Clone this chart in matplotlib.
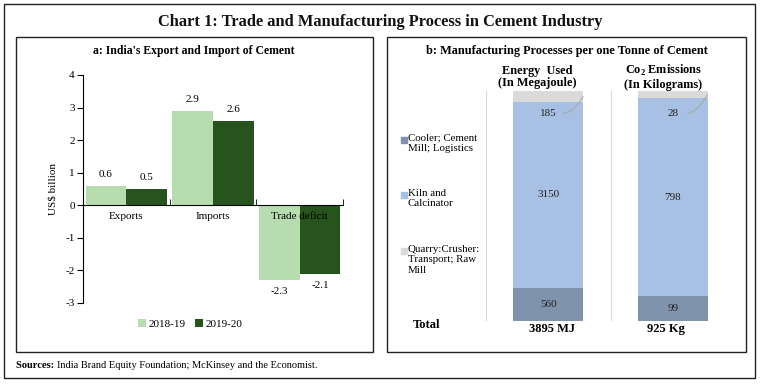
import numpy as np
import matplotlib
matplotlib.use("Agg")
import matplotlib.pyplot as plt
from matplotlib.patches import Rectangle

plt.rcParams['font.family'] = ['Liberation Serif', 'DejaVu Serif']
plt.rcParams['axes.unicode_minus'] = False
plt.rcParams['mathtext.fontset'] = 'custom'
plt.rcParams['mathtext.rm'] = 'Liberation Serif'
plt.rcParams['mathtext.bf'] = 'Liberation Serif:bold'

# donnees panneau a
categories = ["Exports", "Imports", "Trade deficit"]
v_2018 = [0.6, 2.9, -2.3]
v_2019 = [0.5, 2.6, -2.1]
series_a = ["2018-19", "2019-20"]

# donnees panneau b
columns_b = ["Energy  Used\n(In Megajoule)", "Co$_\\mathbf{2}$ Emissions\n(In Kilograms)"]
totals_b = ["3895 MJ", "925 Kg"]
process_labels = ["Cooler; Cement\nMill; Logistics", "Kiln and\nCalcinator",
                  "Quarry:Crusher:\nTransport; Raw\nMill"]
cooler = [560, 99]
kiln = [3150, 798]
quarry = [185, 28]

W, H = 760, 384
C_LIGHT = '#b6dcb0'
C_DARK = '#27531c'
C_SLATE = '#7f93ad'
C_BLUE = '#a7c0e3'
C_GREY = '#dadada'

def box(x0, y0, x1, y1):
    # pixels (haut gauche) -> fraction figure
    return [x0 / W, 1 - y1 / H, (x1 - x0) / W, (y1 - y0) / H]

fig = plt.figure(figsize=(W / 100, H / 100), dpi=100)

# cadres
for (x0, y0, x1, y1) in [(4, 4, 755, 378), (16, 37, 373, 352), (387, 37, 746, 352)]:
    fig.patches.append(Rectangle((x0 / W, 1 - y1 / H), (x1 - x0) / W, (y1 - y0) / H,
                                 transform=fig.transFigure, fill=False,
                                 edgecolor='#222222', linewidth=1.0))

fig.text(380 / W, 1 - 22 / H, "Chart 1: Trade and Manufacturing Process in Cement Industry",
         ha='center', va='center', fontsize=11.8, fontweight='bold', color='#111111')
fig.text(194 / W, 1 - 51 / H, "a: India's Export and Import of Cement",
         ha='center', va='center', fontsize=8.5, fontweight='bold')
fig.text(567 / W, 1 - 51 / H, "b: Manufacturing Processes per one Tonne of Cement",
         ha='center', va='center', fontsize=8.8, fontweight='bold')
src = fig.text(16 / W, 1 - 365 / H, "Sources: ", ha='left', va='center', fontsize=7.5,
               fontweight='bold')
fig.canvas.draw()
ext = src.get_window_extent()
fig.text(ext.x1 / W, 1 - 365 / H, "India Brand Equity Foundation; McKinsey and the Economist.",
         ha='left', va='center', fontsize=7.5)

# ---- panneau a ----
ax = fig.add_axes(box(83, 75, 343, 303))
x = np.arange(len(categories))
bw = 0.47
b1 = ax.bar(x - bw / 2, v_2018, bw, color=C_LIGHT, label=series_a[0])
b2 = ax.bar(x + bw / 2, v_2019, bw, color=C_DARK, label=series_a[1])
for bars, vals in [(b1, v_2018), (b2, v_2019)]:
    for r, v in zip(bars, vals):
        xc = r.get_x() + r.get_width() / 2
        if v >= 0:
            ax.annotate(f"{v:.1f}", (xc, v), xytext=(0, 5), textcoords='offset points',
                        ha='center', va='bottom', fontsize=8)
        else:
            ax.annotate(f"{v:.1f}", (xc, v), xytext=(0, -5), textcoords='offset points',
                        ha='center', va='top', fontsize=8)
ax.set_xlim(-0.5, 2.5)
ax.set_ylim(-3, 4)
ax.set_yticks(range(-3, 5))
ax.spines['top'].set_visible(False)
ax.spines['right'].set_visible(False)
ax.spines['bottom'].set_position(('data', 0))
ax.set_xticks(x)
ax.set_xticklabels(categories, fontsize=8)
ax.tick_params(axis='x', length=0, pad=5)
ax.set_xticks([0.5, 1.5, 2.5], minor=True)
ax.tick_params(axis='x', which='minor', direction='in', length=4)
ax.tick_params(axis='y', labelsize=8, length=4, pad=2)
ax.set_ylabel("US$ billion", fontsize=8)
ax.yaxis.set_label_coords((57 - 83) / 260, 0.5)
ax.legend(loc='center', bbox_to_anchor=(190 / W, 1 - 324 / H), bbox_transform=fig.transFigure,
          ncol=2, frameon=False, fontsize=8, handlelength=0.8, handleheight=0.8,
          handletextpad=0.2, columnspacing=0.8)

# ---- panneau b ----
bx = fig.add_axes(box(486, 91, 735, 321))
xb = np.arange(len(columns_b))
stack = np.array([cooler, kiln, quarry], dtype=float)
pct = stack / stack.sum(axis=0) * 100
colors_b = [C_SLATE, C_BLUE, C_GREY]
bwb = 0.56
bottom = np.zeros(len(xb))
for i in range(3):
    bx.bar(xb, pct[i], bwb, bottom=bottom, color=colors_b[i], zorder=2)
    for j in range(len(xb)):
        if i < 2:
            bx.text(xb[j], bottom[j] + pct[i][j] / 2, f"{int(stack[i][j])}",
                    ha='center', va='center', fontsize=8, color='#222222', zorder=3)
        else:
            # etiquette sous le segment, reliee par un trait
            bx.text(xb[j], 90.4, f"{int(stack[i][j])}", ha='center', va='center',
                    fontsize=8, color='#222222', zorder=3)
            bx.annotate("", xy=(xb[j] + bwb / 2, bottom[j] + pct[i][j] / 2),
                        xytext=(xb[j] + 0.12, 90.4), zorder=3,
                        arrowprops=dict(arrowstyle='-', color='#aaaaaa', lw=0.8,
                                        connectionstyle='angle3,angleA=0,angleB=60',
                                        shrinkA=0, shrinkB=0))
    bottom += pct[i]
bx.set_xlim(-0.5, 1.5)
bx.set_ylim(0, 100)
bx.set_xticks([-0.5, 0.5, 1.5])
bx.grid(axis='x', color='#d9d9d9', linewidth=0.8, zorder=0)
bx.tick_params(length=0, labelbottom=False, labelleft=False)
for s in bx.spines.values():
    s.set_visible(False)

for xc, lab in zip([537, 663], columns_b):
    fig.text(xc / W, 1 - 77 / H, lab, ha='center', va='center', fontsize=8.8,
             fontweight='bold', linespacing=1.05)
for xc, lab in zip([552, 666], totals_b):
    fig.text(xc / W, 1 - 329 / H, lab, ha='center', va='center', fontsize=9, fontweight='bold')
fig.text(413 / W, 1 - 325 / H, "Total", ha='left', va='center', fontsize=9, fontweight='bold')

# legende panneau b
leg_y = [140, 195, 251]
for yy, lab, col in zip(leg_y, process_labels, colors_b):
    fig.patches.append(Rectangle((401 / W, 1 - (yy + 3) / H), 6 / W, 6 / H,
                                 transform=fig.transFigure, color=col))
    fig.text(408 / W, 1 - (yy - 6) / H, lab, ha='left', va='top', fontsize=7.8,
             linespacing=1.2)

fig.savefig("out.png", dpi=100)
